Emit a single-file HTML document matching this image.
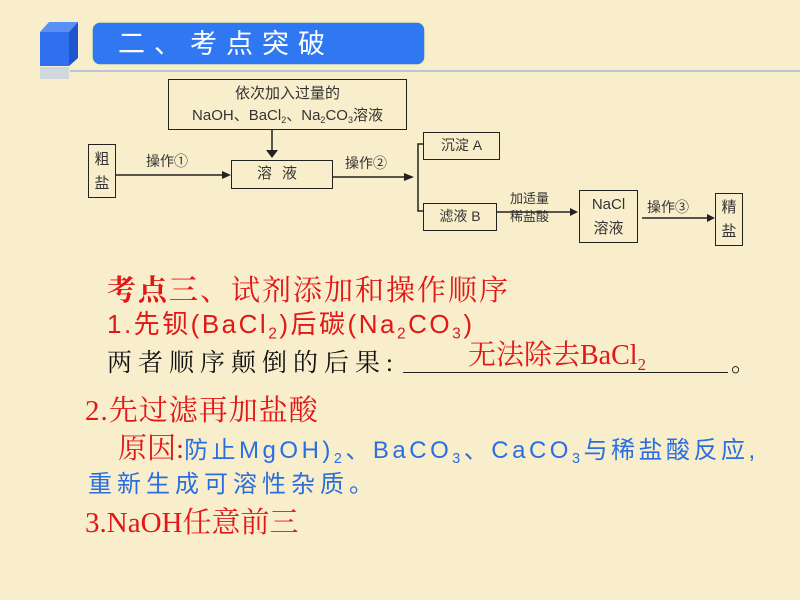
<!DOCTYPE html>
<html><head><meta charset="utf-8"><style>
body{margin:0;width:800px;height:600px;overflow:hidden;background:#f9eecb;position:relative;font-family:"Liberation Serif","Noto Serif CJK SC",serif;}
.a{position:absolute;white-space:nowrap;}
.b{position:absolute;border:1.5px solid #222;box-sizing:border-box;font-family:"Liberation Sans","Noto Sans CJK SC",sans-serif;color:#333;font-size:15px;text-align:center;}
.s{font-family:"Liberation Sans","Noto Sans CJK SC",sans-serif;}
sub{font-size:60%;vertical-align:-0.35em;}
</style></head><body>
<svg class="a" style="left:0;top:0" width="800" height="600">
 <polygon points="40,32 69,32 78,22 49,22" fill="#5b8ff8"/>
 <rect x="40" y="32" width="29" height="34" fill="#2f6ff0"/>
 <polygon points="69,32 78,22 78,58 69,66" fill="#1f55cc"/>
 <rect x="40" y="67" width="29" height="12" fill="#a8c0f0" opacity="0.5"/>
 <line x1="70" y1="71" x2="800" y2="71" stroke="#b8c4d8" stroke-width="2"/>
 <rect x="92" y="22" width="333" height="43" rx="8" fill="#2f78f2" stroke="#f3efb0" stroke-width="1.5"/>
 <g stroke="#222" stroke-width="1.5" fill="none">
  <line x1="272" y1="130" x2="272" y2="152"/>
  <line x1="116" y1="175" x2="224" y2="175"/>
  <line x1="333" y1="177" x2="410" y2="177"/>
  <polyline points="424,144 418,144 418,211 424,211"/>
  <line x1="497" y1="212" x2="570" y2="212"/>
  <line x1="642" y1="218" x2="708" y2="218"/>
 </g>
 <g fill="#222">
  <polygon points="266,150 278,150 272,158"/>
  <polygon points="222,171 231,175 222,179"/>
  <polygon points="404,173 414,177 404,181"/>
  <polygon points="570,208 578,212 570,216"/>
  <polygon points="707,214 715,218 707,222"/>
 </g>
</svg>
<div class="a s" style="left:118px;top:24px;color:#fff;font-size:27px;letter-spacing:9px;line-height:40px">二、考点突破</div>
<div class="b" style="left:168px;top:79px;width:239px;height:51px;line-height:22px;padding-top:3px;font-size:15px">依次加入过量的<br>NaOH、BaCl<sub>2</sub>、Na<sub>2</sub>CO<sub>3</sub>溶液</div>
<div class="b" style="left:88px;top:144px;width:28px;height:54px;line-height:24px;padding-top:3px">粗<br>盐</div>
<div class="a s" style="left:146px;top:151px;font-size:14px;color:#333">操作①</div>
<div class="b" style="left:231px;top:160px;width:102px;height:29px;line-height:26px;letter-spacing:10px">溶液</div>
<div class="a s" style="left:345px;top:153px;font-size:14px;color:#333">操作②</div>
<div class="b" style="left:423px;top:132px;width:77px;height:28px;line-height:25px;font-size:14px">沉淀 A</div>
<div class="b" style="left:423px;top:203px;width:74px;height:28px;line-height:25px;font-size:14px">滤液 B</div>
<div class="a s" style="left:510px;top:190px;font-size:13px;color:#333;line-height:18px">加适量<br>稀盐酸</div>
<div class="b" style="left:579px;top:190px;width:59px;height:53px;line-height:24px;padding-top:2px">NaCl<br>溶液</div>
<div class="a s" style="left:647px;top:197px;font-size:14px;color:#333">操作③</div>
<div class="b" style="left:715px;top:193px;width:28px;height:53px;line-height:24px;padding-top:2px">精<br>盐</div>

<div class="a" style="left:107px;top:268px;font-size:29px;color:#e01818;letter-spacing:2px"><b>考点三</b>、试剂添加和操作顺序</div>
<div class="a s" style="left:107px;top:304px;font-size:26px;color:#e01818;letter-spacing:2.5px">1.先钡(BaCl<sub>2</sub>)后碳(Na<sub>2</sub>CO<sub>3</sub>)</div>
<div class="a" style="left:107px;top:343px;font-size:25px;color:#111;letter-spacing:6px">两者顺序颠倒的后果:</div>
<div class="a" style="left:403px;top:372px;width:325px;border-top:1.5px solid #222"></div>
<div class="a" style="left:731px;top:343px;font-size:25px;color:#111">。</div>
<div class="a" style="left:468px;top:333px;font-size:28px;color:#e01818">无法除去BaCl<sub>2</sub></div>
<div class="a" style="left:85px;top:388px;font-size:29px;color:#e01818;letter-spacing:1px">2.先过滤再加盐酸</div>
<div class="a" style="left:118px;top:426px;font-size:29px;color:#e01818">原因:<span class="s" style="color:#2a6fe0;font-size:24px;letter-spacing:3.5px">防止MgOH)<sub>2</sub>、BaCO<sub>3</sub>、CaCO<sub>3</sub>与稀盐酸反应,</span></div>
<div class="a s" style="left:88px;top:464px;font-size:24px;color:#2a6fe0;letter-spacing:5px">重新生成可溶性杂质。</div>
<div class="a" style="left:85px;top:500px;font-size:29px;color:#e01818">3.NaOH任意前三</div>
</body></html>
